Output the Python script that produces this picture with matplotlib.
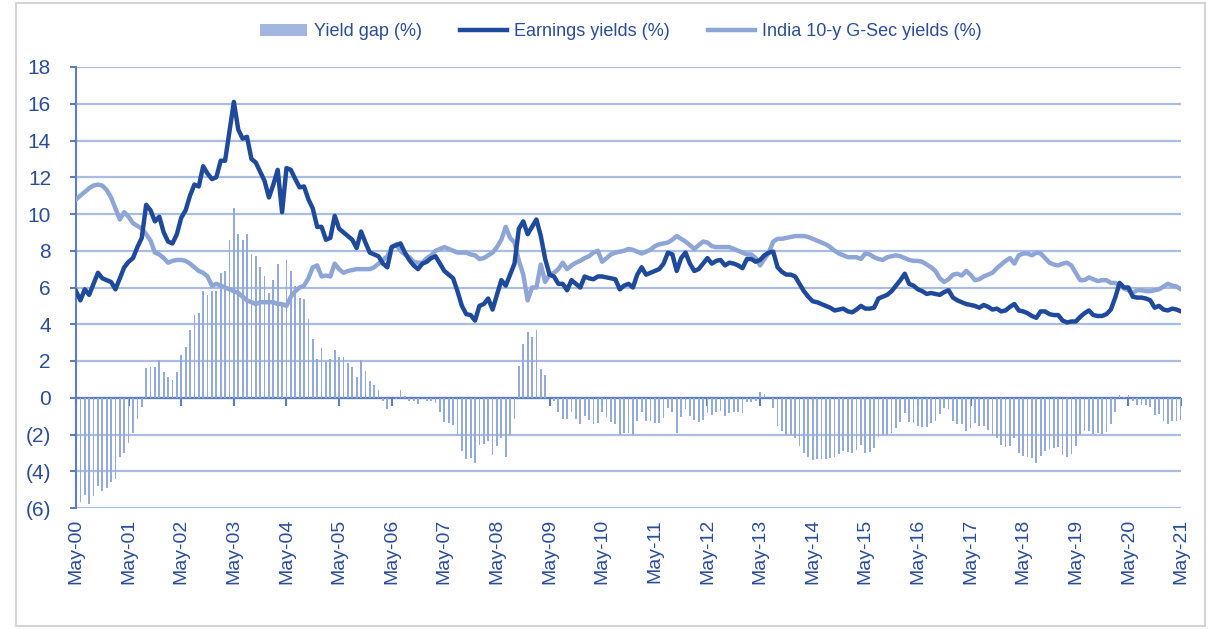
import numpy as np
import matplotlib
matplotlib.use("Agg")
import matplotlib.pyplot as plt
from matplotlib.patches import Rectangle

# ---------------- data (monthly, May-00 .. May-21) ----------------
earnings_yield = [
    5.8, 5.3, 5.9, 5.6, 6.2, 6.8, 6.5, 6.4, 6.3, 5.9,
    6.5, 7.1, 7.4, 7.6, 8.2, 8.7, 10.5, 10.2, 9.6, 9.85,
    9.0, 8.5, 8.4, 8.9, 9.8, 10.2, 11.0, 11.6, 11.5, 12.6,
    12.2, 11.9, 12.0, 12.9, 12.9, 14.5, 16.1, 14.6, 14.1, 14.2,
    13.0, 12.8, 12.3, 11.8, 10.9, 11.6, 12.4, 10.1, 12.5, 12.4,
    11.9, 11.45, 11.5, 10.8, 10.3, 9.3, 9.3, 8.6, 8.7, 9.9,
    9.2, 9.0, 8.8, 8.6, 8.15, 9.05, 8.45, 7.9, 7.8, 7.7,
    7.3, 7.1, 8.2, 8.3, 8.4, 7.9, 7.5, 7.2, 7.0, 7.3,
    7.4, 7.6, 7.7, 7.3, 6.9, 6.7, 6.5, 5.8, 5.0, 4.55,
    4.5, 4.2, 5.0, 5.1, 5.4, 4.8, 5.6, 6.4, 6.1, 6.7,
    7.3, 9.2, 9.6, 8.9, 9.3, 9.7, 8.8, 7.55, 6.7, 6.6,
    6.2, 6.2, 5.85, 6.4, 6.2, 6.0, 6.6, 6.5, 6.45, 6.6,
    6.6, 6.55, 6.5, 6.45, 5.9, 6.1, 6.2, 6.0, 6.7, 7.1,
    6.7, 6.8, 6.9, 7.0, 7.3, 7.9, 7.8, 6.9, 7.6, 7.9,
    7.3, 6.9, 7.0, 7.3, 7.6, 7.3, 7.45, 7.5, 7.2, 7.35,
    7.3, 7.2, 7.05, 7.55, 7.55, 7.4, 7.5, 7.75, 7.9, 7.95,
    7.1, 6.85, 6.7, 6.7, 6.6, 6.2, 5.8, 5.5, 5.25, 5.2,
    5.1, 5.0, 4.9, 4.75, 4.8, 4.85, 4.7, 4.65, 4.8, 5.0,
    4.85, 4.85, 4.9, 5.4, 5.5, 5.6, 5.8, 6.1, 6.4, 6.75,
    6.2, 6.1, 5.9, 5.8, 5.65, 5.7, 5.65, 5.6, 5.75, 5.85,
    5.45, 5.3, 5.2, 5.1, 5.05, 5.0, 4.9, 5.05, 4.95, 4.8,
    4.85, 4.7, 4.75, 4.95, 5.1, 4.75, 4.7, 4.6, 4.45, 4.35,
    4.7, 4.7, 4.55, 4.5, 4.5, 4.2, 4.1, 4.15, 4.15, 4.4,
    4.6, 4.75, 4.5, 4.45, 4.45, 4.55, 4.8, 5.45, 6.25, 6.0,
    6.0, 5.5, 5.45, 5.45, 5.4, 5.3, 4.9, 5.0, 4.8, 4.75,
    4.85, 4.8, 4.7,
]

gsec_yield = [
    10.8, 11.0, 11.2, 11.4, 11.55, 11.6, 11.55, 11.3, 10.9, 10.3,
    9.7, 10.1, 9.85, 9.5, 9.35, 9.2, 8.9, 8.55, 7.9, 7.8,
    7.6, 7.35, 7.45, 7.5, 7.5, 7.45, 7.3, 7.1, 6.9, 6.8,
    6.6, 6.1, 6.2, 6.1, 6.0, 5.9, 5.8, 5.7, 5.5, 5.3,
    5.2, 5.1, 5.2, 5.2, 5.2, 5.2, 5.1, 5.1, 5.0, 5.5,
    5.8, 6.0, 6.1, 6.5, 7.1, 7.2, 6.6, 6.65, 6.6, 7.3,
    7.0, 6.8, 6.9, 6.95, 7.0, 7.0, 7.0, 7.0, 7.1, 7.3,
    7.5, 7.7, 8.2, 8.35, 8.0, 7.8, 7.65, 7.4, 7.35, 7.35,
    7.6, 7.75, 8.0, 8.1, 8.2, 8.1, 8.0, 7.9, 7.9, 7.9,
    7.8, 7.75, 7.55, 7.6, 7.75, 7.9, 8.2, 8.6, 9.3, 8.7,
    8.45, 7.45, 6.7, 5.3, 6.0, 6.0, 7.25, 6.3, 6.7, 6.8,
    7.0, 7.35, 7.0, 7.2, 7.35, 7.45, 7.6, 7.7, 7.9, 8.0,
    7.4, 7.6, 7.8, 7.9, 7.95, 8.0, 8.1, 8.05, 7.95, 7.85,
    7.95, 8.05, 8.25, 8.35, 8.4, 8.45, 8.6, 8.8, 8.65, 8.5,
    8.3, 8.1, 8.3, 8.5, 8.45, 8.25, 8.2, 8.2, 8.2, 8.2,
    8.1, 8.0, 7.9, 7.8, 7.8, 7.6, 7.2, 7.55, 7.9, 8.5,
    8.65, 8.65, 8.7, 8.75, 8.8, 8.8, 8.8, 8.75, 8.65, 8.55,
    8.45, 8.35, 8.2, 8.0, 7.85, 7.75, 7.65, 7.65, 7.65, 7.55,
    7.85, 7.8, 7.65, 7.55, 7.5, 7.65, 7.7, 7.75, 7.7, 7.6,
    7.5, 7.45, 7.45, 7.4, 7.25, 7.1, 6.9, 6.5, 6.3, 6.45,
    6.7, 6.75, 6.65, 6.9, 6.7, 6.4, 6.45, 6.6, 6.7, 6.8,
    7.05, 7.25, 7.45, 7.6, 7.3, 7.75, 7.85, 7.85, 7.75, 7.9,
    7.85, 7.6, 7.35, 7.25, 7.2, 7.3, 7.35, 7.2, 6.8, 6.4,
    6.4, 6.55, 6.45, 6.35, 6.4, 6.4, 6.25, 6.25, 6.1, 5.95,
    5.85, 5.7, 5.85, 5.85, 5.8, 5.8, 5.85, 5.9, 6.05, 6.2,
    6.1, 6.05, 5.9,
]

tick_labels = ["May-00", "May-01", "May-02", "May-03", "May-04", "May-05",
               "May-06", "May-07", "May-08", "May-09", "May-10", "May-11",
               "May-12", "May-13", "May-14", "May-15", "May-16", "May-17",
               "May-18", "May-19", "May-20", "May-21"]
y_ticks = [18, 16, 14, 12, 10, 8, 6, 4, 2, 0, -2, -4, -6]
y_tick_labels = ["18", "16", "14", "12", "10", "8", "6", "4", "2", "0", "(2)", "(4)", "(6)"]
legend_labels = ["Yield gap (%)", "Earnings yields (%)", "India 10-y G-Sec yields (%)"]

# ---------------- derived ----------------
ey = np.array(earnings_yield)
gs = np.array(gsec_yield)
yield_gap = ey - gs
months = np.arange(len(ey))
tick_pos = np.arange(0, len(ey), 12)

# ---------------- style ----------------
C_DARK = "#1f4a9b"
C_LIGHT = "#8ea6d6"
C_BAR = "#93aadb"
C_GRID = "#a9bce3"
C_TEXT = "#2a4d9a"
C_AXIS = "#5c7dc0"

plt.rcParams['font.family'] = ['Liberation Sans', 'DejaVu Sans']

fig = plt.figure(figsize=(12.09, 6.29), dpi=100)
fig.patches.append(Rectangle((16/1209, 3/629), (1205-16)/1209, (626-3)/629,
                             transform=fig.transFigure, fill=False,
                             edgecolor="#d4d4d4", linewidth=1.5))
ax = fig.add_axes([76/1209, 1-508/629, (1181-76)/1209, (508-67)/629])

ax.set_xlim(0, len(ey) - 1)
ax.set_ylim(-6, 18)

for yv in y_ticks:
    ax.axhline(yv, color=C_GRID, linewidth=1.6, zorder=1)
ax.axhline(0, color=C_AXIS, linewidth=1.6, zorder=1.5)

ax.bar(months, yield_gap, width=0.4, color=C_BAR, zorder=2)
l_ey, = ax.plot(months, ey, color=C_DARK, linewidth=3.2, zorder=4, solid_joinstyle="round")
l_gs, = ax.plot(months, gs, color=C_LIGHT, linewidth=3.2, zorder=3, solid_joinstyle="round")

ax.set_yticks(y_ticks)
ax.set_yticklabels(y_tick_labels, fontsize=15)
ax.set_xticks(tick_pos)
ax.set_xticklabels(tick_labels, rotation=90, fontsize=14)
ax.tick_params(axis='y', colors=C_AXIS, labelcolor=C_TEXT,
               length=4, width=1.5, pad=14, direction='out')
ax.tick_params(axis='x', length=0, labelcolor=C_TEXT, pad=8)

for side in ['top', 'right', 'bottom']:
    ax.spines[side].set_visible(False)
ax.spines['left'].set_color(C_AXIS)
ax.spines['left'].set_linewidth(1.5)

# tick marks on the zero line
sec = ax.secondary_xaxis(6/24)
sec.set_xticks(tick_pos)
sec.tick_params(axis='x', length=6, width=1.5, colors=C_AXIS, labelbottom=False,
                labeltop=False, direction='out')
sec.spines['bottom'].set_visible(False)
sec.spines['top'].set_visible(False)

bar_handle = Rectangle((0, 0), 1, 1, facecolor="#a3b6df", edgecolor="none")
leg = fig.legend([bar_handle, l_ey, l_gs], legend_labels,
                 loc='center', bbox_to_anchor=(621/1209, 1-32/629), ncol=3, frameon=False,
                 prop={'size': 13}, handlelength=2.6, handleheight=0.65,
                 columnspacing=2.1, handletextpad=0.4)
for t in leg.get_texts():
    t.set_color(C_TEXT)

fig.savefig("out.png", dpi=100, facecolor="white")
